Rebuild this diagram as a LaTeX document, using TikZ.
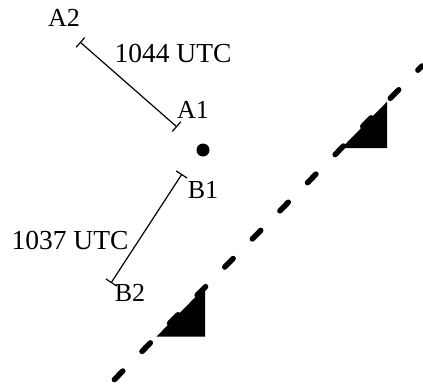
\documentclass[tikz,border=0pt]{standalone}
\usepackage{fontspec}
\setmainfont{Liberation Serif}
\usetikzlibrary{arrows.meta}
\begin{document}
\begin{tikzpicture}[x = 1pt, y = 1pt,
		track/.style = {line width = 1.2pt, {Bar[width = 13pt]}-{Bar[width = 13pt]}},
		lab/.style = {inner sep = 0pt, font = \fontsize{26}{30}\selectfont},
		utc/.style = {inner sep = 0pt, font = \fontsize{27.5}{32}\selectfont},
		front/.style = {line width = 5.5pt, line cap = round, dash pattern = on 12pt off 27.4pt, dash phase = 36pt}]
		\useasboundingbox (0,0) rectangle (423,384);
		% tracks
		\coordinate (A2) at (80,342);
		\coordinate (A1) at (177,257);
		\coordinate (B1) at (182,210);
		\coordinate (B2) at (111,101);
		\draw [track] (A2)--(A1);
		\draw [track] (B1)--(B2);
		\node (labA2) at (64,366)[lab]{A2};
		\node (labA1) at (193,274)[lab]{A1};
		\node (labB1) at (203,194)[lab]{B1};
		\node (labB2) at (130,91)[lab]{B2};
		\node (tA) at (173,331)[utc]{1044 UTC};
		\node (tB) at (70,144)[utc]{1037 UTC};
		\fill (203,234) circle (6.5);
		% front
		\coordinate (F0) at (112,2);
		\coordinate (F1) at (422,318);
		\draw [front] (F0)--(F1);
		\fill (341.6,236)--(387,282.3)--(387,236)--cycle;
		\fill (156.6,47.5)--(205,96.8)--(205,47.5)--cycle;
	\end{tikzpicture}
\end{document}
